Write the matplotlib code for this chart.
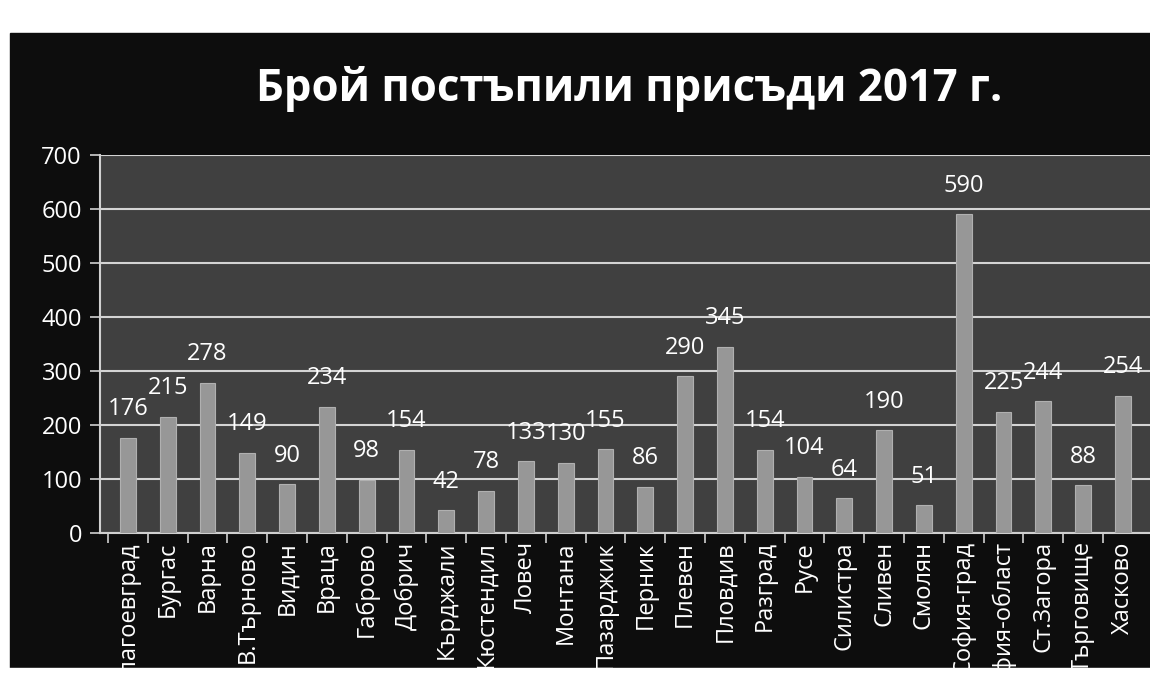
import matplotlib
matplotlib.use('Agg')
import matplotlib.pyplot as plt
from matplotlib.patches import Rectangle

plt.rcParams['font.family'] = ['Open Sans', 'DejaVu Sans']

regions = ['Благоевград', 'Бургас', 'Варна', 'В.Търново', 'Видин', 'Враца',
           'Габрово', 'Добрич', 'Кърджали', 'Кюстендил', 'Ловеч', 'Монтана',
           'Пазарджик', 'Перник', 'Плевен', 'Пловдив', 'Разград', 'Русе',
           'Силистра', 'Сливен', 'Смолян', 'София-град', 'София-област',
           'Ст.Загора', 'Търговище', 'Хасково']
verdicts = [176, 215, 278, 149, 90, 234, 98, 154, 42, 78, 133, 130, 155, 86,
            290, 345, 154, 104, 64, 190, 51, 590, 225, 244, 88, 254]
yticks = [0, 100, 200, 300, 400, 500, 600, 700]

fig = plt.figure(figsize=(11.5, 6.81), dpi=100, facecolor='white')
# black chart background inside the white scan margin
fig.patches.append(Rectangle((10 / 1150, 13 / 681), 1, 635 / 681,
                             transform=fig.transFigure, color='#0d0d0d', zorder=-5))

ax = fig.add_axes([100 / 1150, 148 / 681, 1050 / 1150, 378 / 681])
ax.set_facecolor('#404040')
x = list(range(len(regions)))
ax.bar(x, verdicts, width=0.4, color='#979797', edgecolor='#b0b0b0', linewidth=0.8, zorder=3)
for xi, v in zip(x, verdicts):
    ax.annotate(str(v), (xi, v), xytext=(0, 12), textcoords='offset points',
                ha='center', va='bottom', color='white', fontsize=17, zorder=4)

ax.set_ylim(0, 700)
ax.set_xlim(-0.7, 25.68)
ax.set_yticks(yticks)
ax.yaxis.grid(True, color='#d4d4d4', linewidth=1.5, zorder=1)
ax.set_axisbelow(True)
ax.set_xticks(x)
ax.set_xticklabels(regions, rotation=90, ha='center', va='top')
ax.set_xticks([i - 0.5 for i in x], minor=True)
ax.tick_params(axis='x', which='major', length=0, colors='white', labelsize=17, pad=6)
ax.tick_params(axis='x', which='minor', length=7, color='#d0d0d0', width=1.2)
ax.tick_params(axis='y', length=7, color='#d0d0d0', width=1.2, labelcolor='white', labelsize=17, pad=6)
for s in ['top', 'right']:
    ax.spines[s].set_visible(False)
ax.spines['left'].set_color('#d0d0d0')
ax.spines['bottom'].set_color('#d0d0d0')
ax.spines['left'].set_linewidth(1.5)
ax.spines['bottom'].set_linewidth(1.5)

fig.text(0.547, 0.87, 'Брой постъпили присъди 2017 г.', color='white', fontsize=31.5,
         fontweight='bold', ha='center', va='center')

# white scan margin covering the bottom edge
fig.patches.append(Rectangle((0, 0), 1, 13 / 681, transform=fig.transFigure,
                             color='white', zorder=10))

fig.savefig('out.png', dpi=100, facecolor=fig.get_facecolor())
